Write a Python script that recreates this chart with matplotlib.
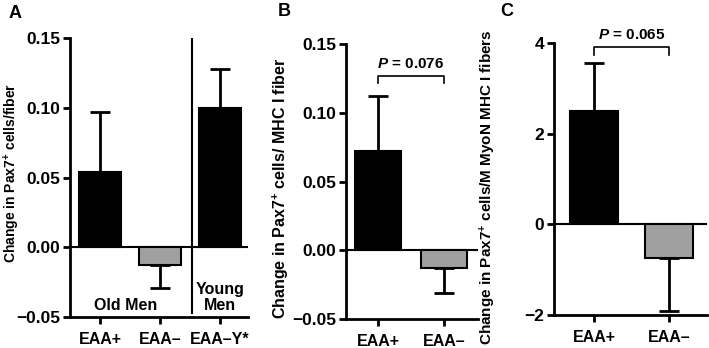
import matplotlib
matplotlib.use("Agg")
import matplotlib.pyplot as plt

plt.rcParams['font.family'] = ['Liberation Sans', 'DejaVu Sans']
plt.rcParams['font.weight'] = 'bold'
plt.rcParams['mathtext.fontset'] = 'custom'
plt.rcParams['mathtext.rm'] = 'Liberation Sans:bold'
plt.rcParams['mathtext.it'] = 'Liberation Sans:bold:italic'
plt.rcParams['mathtext.bf'] = 'Liberation Sans:bold'

# Panel A
a_cats = ["EAA+", "EAA\u2013", "EAA\u2013Y*"]
a_vals = [0.054, -0.013, 0.100]
a_errs = [0.043, 0.016, 0.028]
a_colors = ["black", "#a0a0a0", "black"]

# Panel B
b_cats = ["EAA+", "EAA\u2013"]
b_vals = [0.072, -0.013]
b_errs = [0.040, 0.018]
b_colors = ["black", "#a0a0a0"]

# Panel C
c_cats = ["EAA+", "EAA\u2013"]
c_vals = [2.5, -0.75]
c_errs = [1.05, 1.17]
c_colors = ["black", "#a0a0a0"]

W, H = 709, 348
fig = plt.figure(figsize=(W/100, H/100), dpi=100)

def ax_px(l, r, t, b):
    return fig.add_axes([l/W, 1-b/H, (r-l)/W, (b-t)/H])

def style(ax, cats, ylim, yticks, yticklabels, ylabel, xlim, lsize, lx, ly):
    ax.set_xlim(*xlim)
    ax.set_ylim(*ylim)
    ax.set_xticks(range(len(cats)))
    ax.set_xticklabels(cats, fontsize=11.5, fontweight='bold')
    ax.set_yticks(yticks)
    ax.set_yticklabels(yticklabels, fontsize=12.5, fontweight='bold')
    for s in ['top', 'right']:
        ax.spines[s].set_visible(False)
    for s in ['left', 'bottom']:
        ax.spines[s].set_linewidth(2)
    ax.tick_params(width=2, length=5, direction='out', pad=2)
    ax.tick_params(axis='x', pad=6)
    ax.set_ylabel(ylabel, fontsize=lsize, fontweight='bold')
    ax.yaxis.set_label_coords(lx, ly)
    ax.axhline(0, color='black', lw=1.5, zorder=1)

def bars(ax, vals, errs, colors, width):
    x = list(range(len(vals)))
    ax.bar(x, vals, width=width, color=colors, edgecolor='black', linewidth=1.5, zorder=2)
    for xi, v, e in zip(x, vals, errs):
        sign = 1 if v >= 0 else -1
        ax.errorbar([xi], [v], yerr=[[e if sign < 0 else 0], [e if sign > 0 else 0]],
                    fmt='none', ecolor='black', elinewidth=2, capsize=7.5, capthick=2, zorder=1)

# A
axA = ax_px(70, 248, 38, 317)
bars(axA, a_vals, a_errs, a_colors, 0.7)
style(axA, a_cats, (-0.05, 0.15), [-0.05, 0, 0.05, 0.10, 0.15],
      ["\u22120.05", "0.00", "0.05", "0.10", "0.15"],
      "Change in Pax7$^{+}$ cells/fiber", (-0.5, 2.47), 10, -0.272, 0.516)
axA.plot([1.53, 1.53], [-0.047, 0.149], color='black', lw=1.5)
axA.text(0.42, -0.047, "Old Men", ha='center', va='bottom', fontsize=11.5, fontweight='bold')
axA.text(2.0, -0.047, "Young\nMen", ha='center', va='bottom', fontsize=11.5, fontweight='bold', linespacing=1.1)

# B
axB = ax_px(346, 478, 44, 319)
bars(axB, b_vals, b_errs, b_colors, 0.7)
style(axB, b_cats, (-0.05, 0.15), [-0.05, 0, 0.05, 0.10, 0.15],
      ["\u22120.05", "0.00", "0.05", "0.10", "0.15"],
      "Change in Pax7$^{+}$ cells/ MHC I fiber", (-0.485, 1.515), 11.5, -0.417, 0.476)
axB.plot([0, 0, 1, 1], [0.1215, 0.1265, 0.1265, 0.1215], color='black', lw=1.2, clip_on=False)
axB.text(0.5, 0.1305, "$P$ = 0.076", ha='center', va='bottom', fontsize=11, fontweight='bold')

# C
axC = ax_px(554, 707, 43, 315)
bars(axC, c_vals, c_errs, c_colors, 0.65)
style(axC, c_cats, (-2, 4), [-2, 0, 2, 4], ["\u22122", "0", "2", "4"],
      "Change in Pax7$^{+}$ cells/M MyoN MHC I fibers", (-0.533, 1.507), 11, -0.366, 0.47)
axC.plot([0, 0, 1, 1], [3.74, 3.91, 3.91, 3.74], color='black', lw=1.2, clip_on=False)
axC.text(0.5, 4.02, "$P$ = 0.065", ha='center', va='bottom', fontsize=11, fontweight='bold')

fig.text(15/W, 1-14/H, "A", fontsize=13, fontweight='bold', ha='center', va='center')
fig.text(284/W, 1-12/H, "B", fontsize=13, fontweight='bold', ha='center', va='center')
fig.text(507/W, 1-12/H, "C", fontsize=13, fontweight='bold', ha='center', va='center')

fig.savefig("out.png", dpi=100)
